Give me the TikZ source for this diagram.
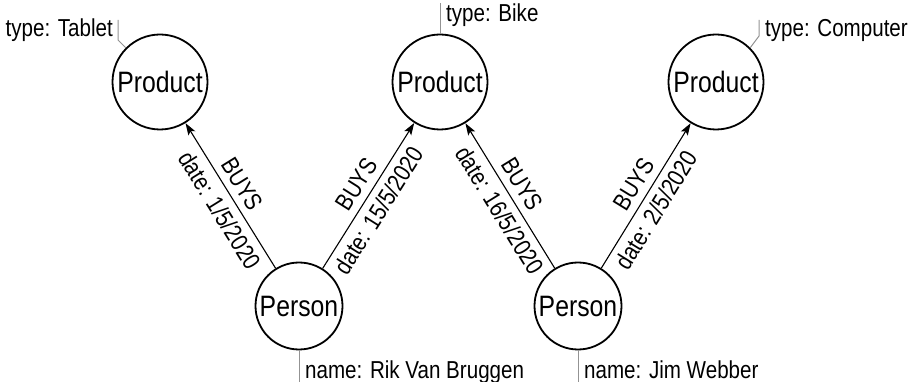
\documentclass[tikz,border=0pt]{standalone}
\usepackage{fontspec}
\setmainfont{Liberation Sans}[FakeStretch=0.84]
\usetikzlibrary{arrows.meta}
\begin{document}
\begin{tikzpicture}[x=1pt,y=1pt,
  entity/.style={circle, draw=black, line width=1.8pt, inner sep=0pt,
    font=\fontsize{29.5}{34}\selectfont},
  product/.style={entity, minimum size=95pt},
  person/.style={entity, minimum size=87pt},
  buys/.style={line width=1.1pt, -{Stealth[length=12pt,width=8pt,inset=2.5pt]}},
  rel/.style={sloped, font=\fontsize{24.5}{28}\selectfont, inner sep=7pt},
  leader/.style={draw=gray!85, line width=1pt},
  prop/.style={font=\fontsize{24.5}{28}\selectfont, inner sep=0pt}]
\useasboundingbox (0,0) rectangle (911,-382);

% entities
\node[product] (pr1) at (160,-82) {Product};
\node[product] (pr2) at (440,-82) {Product};
\node[product] (pr3) at (716,-82) {Product};
\node[person]  (pe1) at (299,-306) {Person};
\node[person]  (pe2) at (578,-306) {Person};

% relationships
\draw[buys] (pe1) -- node[rel, above, pos=0.52] {BUYS}
                     node[rel, below, pos=0.46] {date: 1/5/2020} (pr1);
\draw[buys] (pe1) -- node[rel, above, pos=0.52] {BUYS}
                     node[rel, below, pos=0.46] {date: 15/5/2020} (pr2);
\draw[buys] (pe2) -- node[rel, above, pos=0.52] {BUYS}
                     node[rel, below, pos=0.46] {date: 16/5/2020} (pr2);
\draw[buys] (pe2) -- node[rel, above, pos=0.52] {BUYS}
                     node[rel, below, pos=0.46] {date: 2/5/2020} (pr3);

% properties
\coordinate (k1) at (118,-40);
\coordinate (t1) at (118,-20);
\node[prop, anchor=base east] (v1) at (113,-37) {type: Tablet};
\draw[leader] (pr1.135) -- (k1) -- (t1);

\coordinate (t2) at (440,-3);
\node[prop, anchor=base west] (v2) at (446,-22) {type: Bike};
\draw[leader] (pr2.north) -- (t2);

\coordinate (k3) at (759,-36);
\coordinate (t3) at (759,-20);
\node[prop, anchor=base west] (v3) at (765,-37) {type: Computer};
\draw[leader] (pr3.45) -- (k3) -- (t3);

\coordinate (t4) at (299,-382);
\node[prop, anchor=base west] (v4) at (305,-378) {name: Rik Van Bruggen};
\draw[leader] (pe1.south) -- (t4);

\coordinate (t5) at (578,-382);
\node[prop, anchor=base west] (v5) at (584,-378) {name: Jim Webber};
\draw[leader] (pe2.south) -- (t5);
\end{tikzpicture}
\end{document}
